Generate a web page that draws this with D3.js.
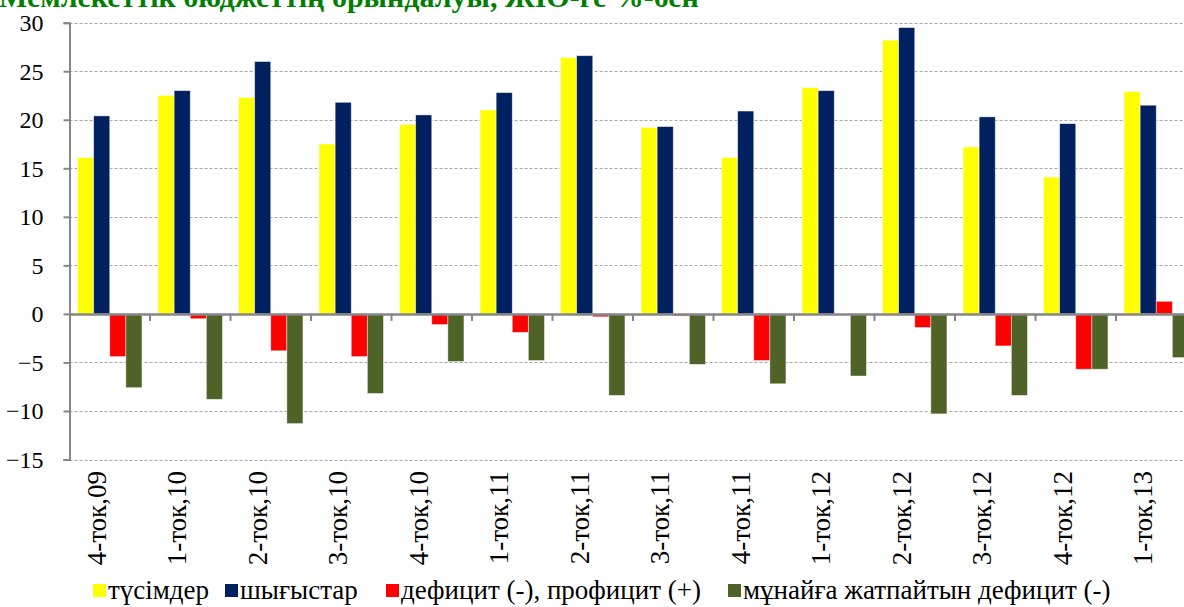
<!DOCTYPE html>
<html>
<head>
<meta charset="utf-8">
<script src="https://cdn.jsdelivr.net/npm/d3@7"></script>
<style>
  html, body { margin: 0; padding: 0; background: #fff; }
</style>
</head>
<body>
<div id="chart"></div>
<script>
// quarters (ток = тоқсан)
const categories = ['4-ток,09', '1-ток,10', '2-ток,10', '3-ток,10', '4-ток,10', '1-ток,11', '2-ток,11',
  '3-ток,11', '4-ток,11', '1-ток,12', '2-ток,12', '3-ток,12', '4-ток,12', '1-ток,13']
const seriesNames = ['түсімдер', 'шығыстар', 'дефицит (-), профицит (+)', 'мұнайға жатпайтын дефицит (-)']

// values, % of GDP
const revenues = [16.1, 22.5, 22.3, 17.5, 19.5, 21.0, 26.4, 19.2, 16.1, 23.3, 28.2, 17.2, 14.1, 22.9]
const expenses = [20.4, 23.0, 26.0, 21.8, 20.5, 22.8, 26.6, 19.3, 20.9, 23.0, 29.5, 20.3, 19.6, 21.5]
const balance = [-4.4, -0.5, -3.8, -4.4, -1.1, -1.9, -0.3, -0.2, -4.8, 0, -1.4, -3.3, -5.7, 1.3]
const nonOilBalance = [-7.6, -8.8, -11.3, -8.2, -4.9, -4.8, -8.4, -5.2, -7.2, -6.4, -10.3, -8.4, -5.7, -4.5]
const yTicks = [-15, -10, -5, 0, 5, 10, 15, 20, 25, 30]
const titleText = 'Мемлекеттік бюджеттің орындалуы, ЖІӨ-ге %-бен'

const colors = ['#ffff00', '#002060', '#ff0000', '#4f6228']
const allSeries = [revenues, expenses, balance, nonOilBalance]
const fontFam = 'Tinos'

const W = 1184, H = 607
const svg = d3.select('#chart').append('svg')
  .attr('width', W).attr('height', H)

// plot area (the right end runs past the picture, as in the original)
const left = 69.5, step = 80.5
const x = d3.scaleBand().domain(categories).range([left, left + step * categories.length]).padding(0)
const xs = d3.scaleBand().domain(d3.range(seriesNames.length)).range([0, x.bandwidth()])
  .paddingInner(0).paddingOuter(0.5)
const y = d3.scaleLinear().domain([-15, 30]).range([459.5, 22.7])

// title, mostly cut off by the top edge
svg.append('text')
  .attr('x', -1).attr('y', 7)
  .attr('font-size', 30)
  .style('font-family', fontFam)
  .style('font-weight', 'bold')
  .attr('fill', '#008000')
  .text(titleText)

// dashed gridlines
svg.append('g').selectAll('line')
  .data(yTicks.filter(d => d !== 0))
  .join('line')
  .attr('x1', left).attr('x2', W)
  .attr('y1', d => Math.round(y(d)) + 0.5).attr('y2', d => Math.round(y(d)) + 0.5)
  .attr('stroke', '#a6a6a6').attr('stroke-width', 1).attr('stroke-dasharray', '3,2')

// bars
const groups = svg.append('g').selectAll('g')
  .data(allSeries)
  .join('g')
  .attr('fill', (d, i) => colors[i])

groups.each(function (vals, si) {
  d3.select(this).selectAll('rect')
    .data(vals.map((v, ci) => ({ v: v, c: categories[ci] })))
    .join('rect')
    .attr('x', d => x(d.c) + xs(si))
    .attr('width', xs.bandwidth())
    .attr('y', d => y(Math.max(0, d.v)))
    .attr('height', d => Math.abs(y(d.v) - y(0)))
    .attr('stroke', 'rgba(255,255,255,0.55)').attr('stroke-width', 0.8)
})

// y axis
const yAxis = svg.append('g')
  .attr('transform', `translate(${left},0)`)
  .call(d3.axisLeft(y).tickValues(yTicks).tickSize(6).tickPadding(20).tickFormat(d3.format('d')))
yAxis.attr('font-family', null).attr('font-size', null)
yAxis.select('.domain').attr('stroke', '#868686').attr('stroke-width', 2)
yAxis.selectAll('.tick line').attr('stroke', '#868686').attr('stroke-width', 2)
yAxis.selectAll('.tick text')
  .attr('font-size', 24)
  .style('font-family', fontFam)
  .attr('fill', '#000')
  .attr('dy', '0.33em')

// zero line with category ticks
const xAxis = svg.append('g')
  .attr('transform', `translate(0,${y(0)})`)
  .call(d3.axisBottom(x).tickSize(0).tickFormat(''))
xAxis.select('.domain').attr('stroke', '#868686').attr('stroke-width', 2.5)
xAxis.selectAll('.tick').remove()
xAxis.selectAll('.cattick')
  .data(categories)
  .join('line')
  .attr('x1', d => x(d) + x.bandwidth()).attr('x2', d => x(d) + x.bandwidth())
  .attr('y1', 0).attr('y2', 7)
  .attr('stroke', '#868686').attr('stroke-width', 2)

// rotated category labels under the plot
svg.append('g').selectAll('text')
  .data(categories)
  .join('text')
  .attr('transform', d => `translate(${x(d) + x.bandwidth() / 2 - 4},471) rotate(-90)`)
  .attr('text-anchor', 'end')
  .attr('font-size', 27)
  .style('font-family', fontFam)
  .attr('fill', '#000')
  .text(d => d)

// legend, item offsets as in the original
const legendX = [93, 225, 386, 728]
const legend = svg.append('g').attr('transform', 'translate(0,584)')
const items = legend.selectAll('g')
  .data(seriesNames)
  .join('g')
  .attr('transform', (d, i) => `translate(${legendX[i]},0)`)
items.append('rect').attr('width', 13).attr('height', 13).attr('fill', (d, i) => colors[i])
items.append('text').attr('x', 15).attr('y', 15)
  .attr('font-size', 27)
  .style('font-family', fontFam)
  .attr('fill', '#000')
  .text(d => d)
</script>
</body>
</html>
